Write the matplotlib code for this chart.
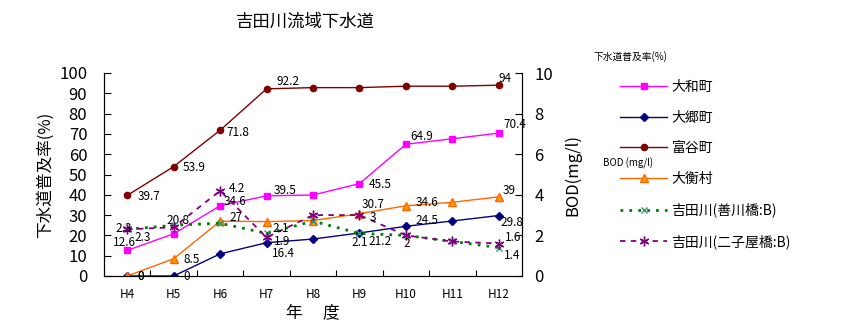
import numpy as np
import matplotlib
matplotlib.use("Agg")
import matplotlib.pyplot as plt
from matplotlib.ticker import FixedLocator

plt.rcParams['font.family'] = ['Noto Sans CJK JP', 'DejaVu Sans']

years = ["H4", "H5", "H6", "H7", "H8", "H9", "H10", "H11", "H12"]

# sewer coverage (%), left axis
yamato = [12.6, 20.8, 34.6, 39.5, 39.9, 45.5, 64.9, 67.6, 70.4]
osato = [0, 0, 10.9, 16.4, 18.2, 21.2, 24.5, 27.1, 29.8]
tomiya = [39.7, 53.9, 71.8, 92.2, 92.8, 92.8, 93.5, 93.5, 94.0]
ohira = [0, 8.5, 27.0, 26.8, 27.3, 30.7, 34.6, 36.3, 39.0]

# BOD (mg/l), right axis
bod_yoshikawa = [2.3, 2.5, 2.6, 2.1, 2.7, 2.1, 2.0, 1.7, 1.4]
bod_futagoya = [2.3, 2.4, 4.2, 1.9, 3.0, 3.0, 2.0, 1.7, 1.6]

# data labels: (index, text, dx px, dy px, ha)
lab_yamato = [(0, "12.6", -3, 8, "center"), (1, "20.8", 4, 13, "center"),
              (2, "34.6", 4, 4, "left"), (3, "39.5", 7, 5, "left"),
              (5, "45.5", 9, -1, "left"), (6, "64.9", 4, 8, "left"),
              (8, "70.4", 5, 9, "left")]
lab_osato = [(0, "0", 10, -1, "left"), (1, "0", 10, -1, "left"),
             (3, "16.4", 5, -11, "left"), (5, "21.2", 9, -9, "left"),
             (6, "24.5", 10, 6, "left"), (8, "29.8", 2, -7, "left")]
lab_tomiya = [(0, "39.7", 10, -1, "left"), (1, "53.9", 9, -1, "left"),
              (2, "71.8", 6, -2, "left"), (3, "92.2", 10, 7, "left"),
              (8, "94", 0, 7, "left")]
lab_ohira = [(0, "0", 10, -1, "left"), (1, "8.5", 10, -1, "left"),
             (2, "27", 9, 4, "left"), (5, "30.7", 2, 9, "left"),
             (6, "34.6", 10, 3, "left"), (8, "39", 4, 6, "left")]
lab_yoshikawa = [(0, "2.3", 7, -8, "left"), (3, "2.1", 6, 5, "left"),
                 (5, "2.1", 0, -9, "center"), (8, "1.4", 5, -8, "left")]
lab_futagoya = [(0, "2.3", -4, 1, "center"), (2, "4.2", 9, 2, "left"),
                (3, "1.9", 7, -4, "left"), (5, "3", 10, -2, "left"),
                (6, "2", 1, -8, "center"), (8, "1.6", 6, 6, "left")]

fig = plt.figure(figsize=(8.44, 3.33), dpi=100)
ax = fig.add_axes([104 / 844, 1 - 276 / 333, 418 / 844, 203 / 333])
ax2 = ax.twinx()

x = np.arange(len(years))

l1, = ax.plot(x, yamato, color="#FF00FF", lw=1, marker="s", ms=5, mec="#FF00FF")
l2, = ax.plot(x, osato, color="#000080", lw=1, marker="D", ms=4.5, mec="#000080")
l3, = ax.plot(x, tomiya, color="#800000", lw=1, marker="o", ms=4.5, mec="#800000")
l4, = ax.plot(x, ohira, color="#FF6600", lw=1, marker="^", ms=6, mfc="#FF9900", mec="#FF6600")
l5, = ax2.plot(x, bod_yoshikawa, color="#008000", lw=2, ls=(0, (1, 2.2)), marker="x", ms=4.5,
               mec="#339966", mew=1)
l6, = ax2.plot(x, bod_futagoya, color="#800080", lw=1.3, ls=(0, (3, 3)), marker=(6, 2, 0),
               ms=7, mec="#800080", mew=1)

def put_labels(axis, vals, labels):
    for i, txt, dx, dy, ha in labels:
        axis.annotate(txt, (x[i], vals[i]), xytext=(dx, dy), textcoords="offset pixels",
                      ha=ha, va="center", fontsize=8.5, color="black")

put_labels(ax, yamato, lab_yamato)
put_labels(ax, osato, lab_osato)
put_labels(ax, tomiya, lab_tomiya)
put_labels(ax, ohira, lab_ohira)
put_labels(ax2, bod_yoshikawa, lab_yoshikawa)
put_labels(ax2, bod_futagoya, lab_futagoya)

ax.set_xlim(-0.5, len(years) - 0.5)
ax.set_ylim(0, 100)
ax2.set_ylim(0, 10)
ax.set_yticks(np.arange(0, 101, 10))
ax2.set_yticks(np.arange(0, 11, 2))
ax.set_xticks(x)
ax.set_xticklabels(years)
ax.xaxis.set_minor_locator(FixedLocator(np.arange(0.5, len(years) - 1, 1)))

ax.tick_params(axis="x", which="major", length=0, pad=9, labelsize=8.5)
ax.tick_params(axis="x", which="minor", direction="in", length=4, width=0.8)
ax.tick_params(axis="y", direction="in", length=5, width=0.8, pad=12, labelsize=12)
ax2.tick_params(axis="y", direction="in", length=5, width=0.8, pad=9, labelsize=12)

for a in (ax, ax2):
    a.spines["top"].set_visible(False)
    for s in ("left", "right", "bottom"):
        a.spines[s].set_linewidth(0.8)

ax.set_ylabel("下水道普及率(%)", fontsize=12, labelpad=4)
ax2.set_ylabel("BOD(mg/l)", fontsize=12, labelpad=8)
ax.set_xlabel("年 　度", fontsize=12, labelpad=2)
fig.text(305 / 844, 1 - 22 / 333, "吉田川流域下水道", ha="center", va="center", fontsize=12.5)

fig.text(593 / 844, 1 - 57 / 333, "下水道普及率(%)", ha="left", va="center", fontsize=7)
fig.text(603 / 844, 1 - 163 / 333, "BOD (mg/l)", ha="left", va="center", fontsize=7)

handles = [l1, l2, l3, l4, l5, l6]
names = ["大和町", "大郷町", "富谷町", "大衡村", "吉田川(善川橋:B)", "吉田川(二子屋橋:B)"]
fig.legend(handles, names, loc="upper left", bbox_to_anchor=(620 / 844, 1 - 80 / 333),
           frameon=False, fontsize=10, handlelength=3.4, handletextpad=0.3,
           labelspacing=1.2, borderpad=0, borderaxespad=0, numpoints=1)

fig.savefig("out.png", dpi=100, facecolor="white")
